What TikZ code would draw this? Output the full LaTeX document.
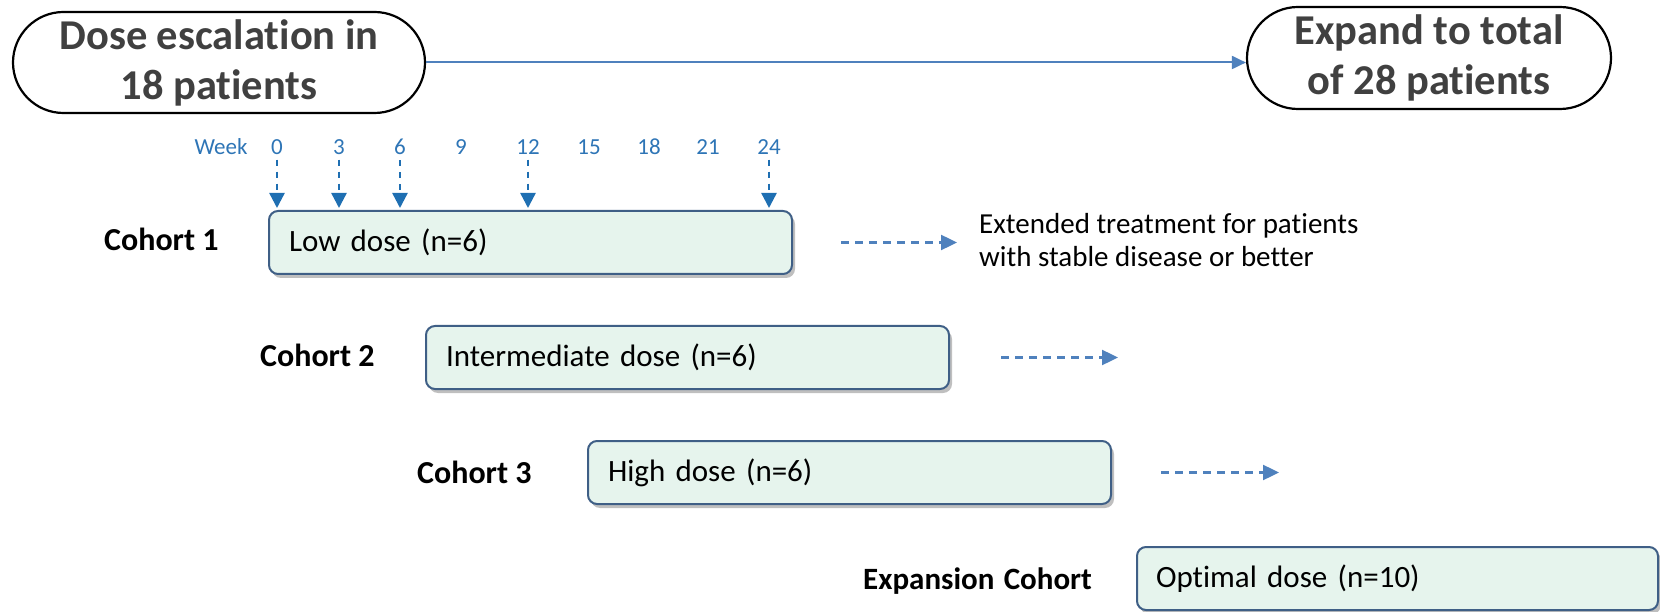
\documentclass[tikz,border=0pt]{standalone}
\usepackage{fontspec}
\setmainfont{Carlito}[RawFeature=-liga]
\usetikzlibrary{arrows.meta,shapes.misc,shadows}
\definecolor{pilltext}{HTML}{404040}
\definecolor{weekblue}{HTML}{2E75B6}
\definecolor{tickblue}{HTML}{1F6FB2}
\definecolor{linkblue}{HTML}{4F81BD}
\definecolor{boxfill}{HTML}{E6F4ED}
\definecolor{boxline}{HTML}{3F5F86}
\begin{document}
\begin{tikzpicture}[x=1pt,y=-1pt,
  pill/.style={draw=black, line width=2.2pt, rounded rectangle, inner sep=0pt,
    align=center, text=pilltext, font=\fontsize{42.5}{50}\selectfont\bfseries},
  dosebox/.style={draw=boxline, line width=2pt, fill=boxfill, rounded corners=9pt,
    anchor=north west, inner sep=0pt, minimum height=63pt, minimum width=523pt,
    text width=483pt, align=left, font=\fontsize{31}{36}\selectfont,
    drop shadow={shadow xshift=3pt, shadow yshift=-4pt, opacity=0.25, fill=black}},
  cohortlabel/.style={anchor=west, inner sep=0pt, font=\fontsize{32}{36}\selectfont\bfseries},
  weeklabel/.style={inner sep=1pt, text=weekblue, font=\fontsize{23}{26}\selectfont},
  tickarrow/.style={draw=tickblue, line width=2.4pt, dash pattern=on 6pt off 6pt,
    -{Triangle[width=15pt,length=15pt]}, shorten >=2pt},
  toparrow/.style={draw=linkblue, line width=2pt, -{Triangle[width=13pt,length=14pt]}},
  dasharrow/.style={draw=linkblue, line width=2.4pt, dash pattern=on 8pt off 6pt,
    -{Triangle[width=15pt,length=16pt]}},
  note/.style={anchor=west, inner sep=0pt, align=left, font=\fontsize{29}{33}\selectfont}
]
\useasboundingbox (0,0) rectangle (1660,612);

% top pills
\node[pill, minimum width=412pt, minimum height=101pt] (dose) at (219,62.5)
  {Dose escalation in\\18 patients};
\node[pill, minimum width=364pt, minimum height=102pt] (expand) at (1429,58)
  {Expand to total\\of 28 patients};
\draw[toparrow] (dose.east) -- (dose.east -| expand.west);

% boxes
\node[dosebox] (c1) at (268,210) {Low dose (n=6)};
\node[dosebox] (c2) at (425,325) {Intermediate dose (n=6)};
\node[dosebox] (c3) at (587,440) {High dose (n=6)};
\node[dosebox, minimum width=521pt] (ce) at (1136,546) {Optimal dose (n=10)};

% cohort labels
\node[cohortlabel] (l1) at (104,239) {Cohort 1};
\node[cohortlabel] (l2) at (260,355) {Cohort 2};
\node[cohortlabel] (l3) at (417,472) {Cohort 3};
\node[cohortlabel, font=\fontsize{31}{36}\selectfont\bfseries] (le) at (863,581) {Expansion\hspace{0.3em}Cohort};

% week scale
\node[weeklabel] (wk) at (221,147) {Week};
\node[weeklabel] (n0) at (277,147) {0};
\node[weeklabel] (n3) at (339,147) {3};
\node[weeklabel] (n6) at (400,147) {6};
\node[weeklabel] (n9) at (461,147) {9};
\node[weeklabel] (n12) at (528,147) {12};
\node[weeklabel] (n15) at (589,147) {15};
\node[weeklabel] (n18) at (649,147) {18};
\node[weeklabel] (n21) at (708,147) {21};
\node[weeklabel] (n24) at (769,147) {24};

\foreach \n in {n0,n3,n6,n12,n24}
  \draw[tickarrow] ([yshift=-4pt]\n.south) -- (\n.south |- c1.north);

% extended treatment arrows
\coordinate (a1s) at ([xshift=48pt]c1.east);
\coordinate (a1e) at ([xshift=164pt]c1.east);
\coordinate (a2s) at ([xshift=51pt]c2.east);
\coordinate (a2e) at ([xshift=168pt]c2.east);
\coordinate (a3s) at ([xshift=49pt]c3.east);
\coordinate (a3e) at ([xshift=167pt]c3.east);
\draw[dasharrow] (a1s) -- (a1e);
\draw[dasharrow] (a2s) -- (a2e);
\draw[dasharrow] (a3s) -- (a3e);

\node[note] (ext) at (979,240) {Extended treatment for patients\\with stable disease or better};
\end{tikzpicture}
\end{document}
